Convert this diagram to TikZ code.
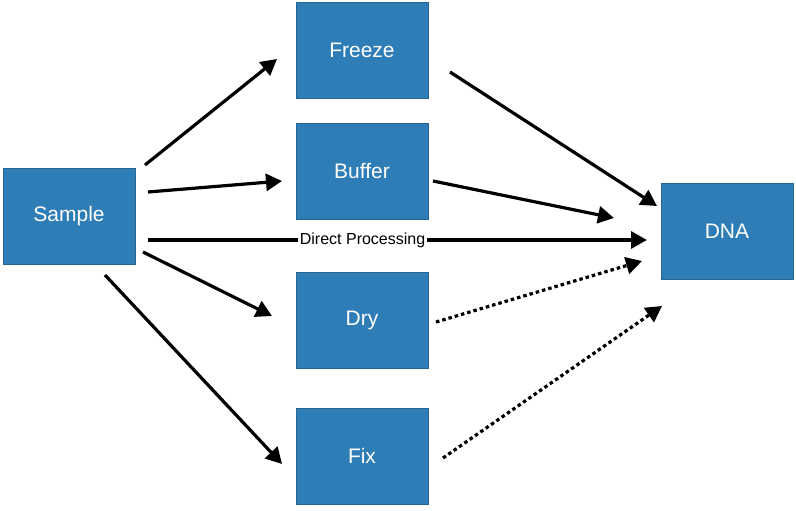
\documentclass[tikz,border=0pt]{standalone}
\usepackage{fontspec}
\setmainfont{Liberation Sans}
\usetikzlibrary{arrows.meta}
\definecolor{boxblue}{HTML}{2F7DB6}
\begin{document}
\begin{tikzpicture}[x=1pt,y=-1pt,
  box/.style={fill=boxblue,draw=boxblue!80!black,line width=0.4pt,minimum width=132pt,minimum height=96pt,text=white,font=\fontsize{21}{24}\selectfont,inner sep=0},
  arr/.style={line width=3.2pt,-{Triangle[length=16pt,width=17pt]}},
  darr/.style={arr,dash pattern=on 3.5pt off 3pt}]
\useasboundingbox (0,0) rectangle (796,511);
\node[box] (sample) at (69,216) {Sample};
\node[box] (freeze) at (362,50) {Freeze};
\node[box] (buffer) at (362,171) {Buffer};
\node[box] (dry) at (362,320) {Dry};
\node[box] (fix) at (362,456) {Fix};
\node[box] (dna) at (727,231) {DNA};
\coordinate (s1) at (145,165); \coordinate (f1) at (277,59);
\coordinate (s2) at (148,192); \coordinate (b1) at (282,181);
\coordinate (s3) at (148,240); \coordinate (d0) at (647,240);
\coordinate (s4) at (143,252); \coordinate (y1) at (272,316);
\coordinate (s5) at (105,275); \coordinate (x1) at (282,464);
\coordinate (f2) at (450,72); \coordinate (d1) at (657,206);
\coordinate (b2) at (433,181); \coordinate (d2) at (614,218);
\coordinate (y2) at (436,322); \coordinate (d3) at (642,261);
\coordinate (x2) at (443,458); \coordinate (d4) at (662,306);
\draw[arr] (s1) -- (f1);
\draw[arr] (s2) -- (b1);
\draw[arr] (s3) -- node[fill=white,inner sep=1.5pt,font=\fontsize{16}{18}\selectfont,pos=0.43]{Direct Processing} (d0);
\draw[arr] (s4) -- (y1);
\draw[arr] (s5) -- (x1);
\draw[arr] (f2) -- (d1);
\draw[arr] (b2) -- (d2);
\draw[darr] (y2) -- (d3);
\draw[darr] (x2) -- (d4);
\end{tikzpicture}
\end{document}
